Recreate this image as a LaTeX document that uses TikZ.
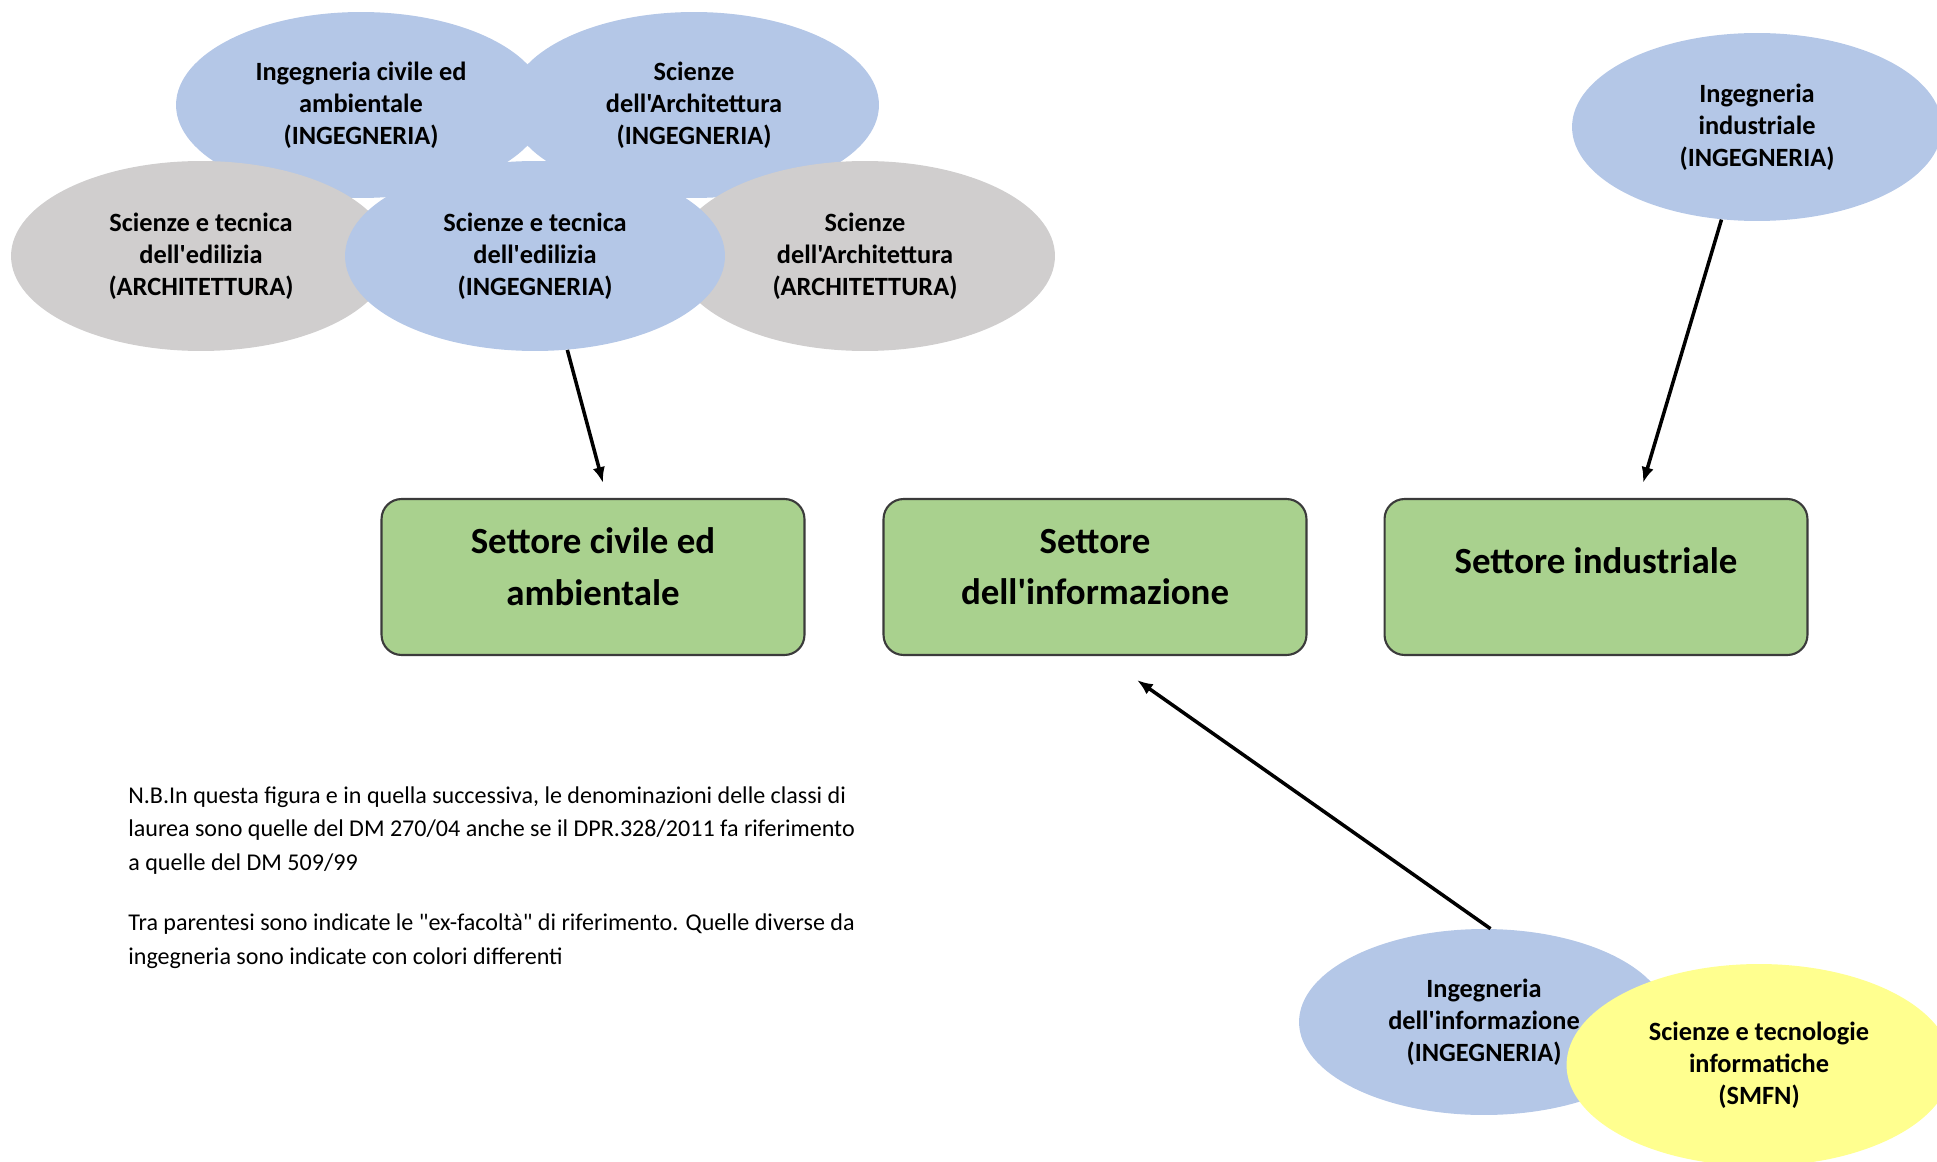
\documentclass[tikz,border=0pt]{standalone}
\usepackage{fontspec}
\setmainfont{Carlito}[Ligatures=TeXOff]
\usetikzlibrary{positioning, arrows.meta, shapes.geometric, calc}
\definecolor{ingblue}{HTML}{B4C7E7}
\definecolor{archgray}{HTML}{D0CECE}
\definecolor{smfnyellow}{HTML}{FFFF8F}
\definecolor{sectgreen}{HTML}{A9D18E}
\definecolor{sectline}{HTML}{3B3B3B}

\begin{document}
\begin{tikzpicture}[x=0.02cm, y=-0.02cm,
    classe/.style={ellipse, minimum width=7.4cm, minimum height=3.72cm, inner sep=0pt, align=center, font=\fontsize{15}{18.2}\selectfont\bfseries},
    grande/.style={minimum width=7.6cm, minimum height=3.8cm},
    settore/.style={draw=sectline, line width=1.2pt, fill=sectgreen, rounded corners=0.4cm, minimum width=8.46cm, minimum height=3.12cm},
    settxt/.style={align=center, inner sep=0pt, font=\fontsize{21}{29.5}\selectfont\bfseries},
    nota/.style={align=left, inner sep=0pt, anchor=base west, font=\fontsize{13.7}{18.8}\selectfont},
    freccia/.style={-{Latex[length=9pt, width=7pt]}, line width=2pt}]
    \useasboundingbox (0,0) rectangle (1937,1162);

    % Classi di laurea (settore civile)
    \node[classe, fill=ingblue] (civamb) at (361,105) {Ingegneria civile ed\\ambientale\\(INGEGNERIA)};
    \node[classe, fill=ingblue] (arching) at (694,105) {Scienze\\dell'Architettura\\(INGEGNERIA)};
    \node[classe, grande, fill=archgray] (edilarch) at (201,256) {Scienze e tecnica\\dell'edilizia\\(ARCHITETTURA)};
    \node[classe, grande, fill=archgray] (archarch) at (865,256) {Scienze\\dell'Architettura\\(ARCHITETTURA)};
    \node[classe, grande, fill=ingblue] (edil) at (535,256) {Scienze e tecnica\\dell'edilizia\\(INGEGNERIA)};

    % Classe di laurea (settore industriale)
    \node[classe, fill=ingblue, minimum height=3.76cm] (ind) at (1757,127) {Ingegneria\\industriale\\(INGEGNERIA)};

    % Classi di laurea (settore dell'informazione)
    \node[classe, fill=ingblue] (info) at (1484,1022) {Ingegneria\\dell'informazione\\(INGEGNERIA)};
    \node[classe, fill=smfnyellow, minimum width=7.7cm, minimum height=4.04cm] (infsmfn) at (1759,1065) {Scienze e tecnologie\\informatiche\\(SMFN)};

    % Settori
    \node[settore] (civ) at (593,577) {};
    \node[settore] (inf) at (1095,577) {};
    \node[settore] (indu) at (1596,577) {};
    \node[settxt] (civt) at ($(civ.center)+(0,-10)$) {Settore civile ed\\ambientale};
    \node[settxt] (inft) at ($(inf.center)+(0,-10)$) {Settore\\dell'informazione};
    \node[settxt] (indut) at ($(indu.center)+(0,-16)$) {Settore industriale};

    % Frecce
    \draw[freccia] (edil.-71) -- ($(civ.north)+(10,-15)$);
    \draw[freccia] (ind.-111) -- ($(indu.north)+(47,-15)$);
    \draw[freccia] (info.86) -- ($(inf.south)+(42,24)$);

    % Note (base = last line)
    \node[nota] (nb) at (128,870) {N.B.In questa figura e in quella successiva, le denominazioni delle classi di\\laurea sono quelle del DM 270/04 anche se il DPR.328/2011 fa riferimento\\a quelle del DM 509/99};
    \node[nota] (tra) at (128,964) {Tra parentesi sono indicate le "ex-facoltà" di riferimento. Quelle diverse da\\ingegneria sono indicate con colori differenti};
\end{tikzpicture}
\end{document}
